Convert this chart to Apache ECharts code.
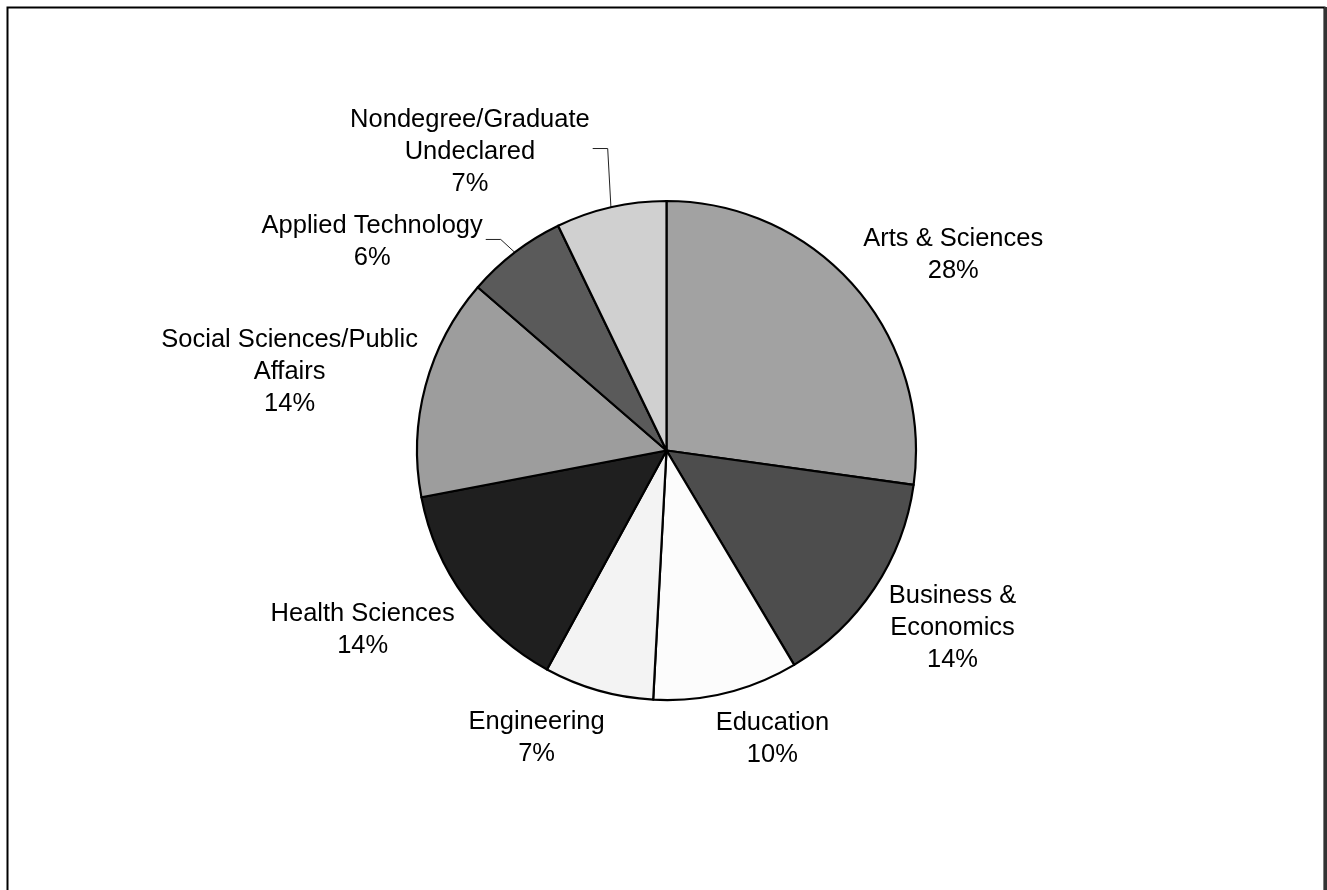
<!DOCTYPE html>
<html>
<head>
<meta charset="utf-8">
<script src="https://cdn.jsdelivr.net/npm/echarts@6/dist/echarts.min.js"></script>
<style>
html, body { margin: 0; padding: 0; background: #fff; }
#chart { width: 1327px; height: 890px; }
</style>
</head>
<body>
<div id="chart"></div>
<script>
// ---- data ----
const categories = ['Arts & Sciences', 'Business & Economics', 'Education', 'Engineering',
  'Health Sciences', 'Social Sciences/Public Affairs', 'Applied Technology', 'Nondegree/Graduate Undeclared'];
const labelNames = ['Arts & Sciences', 'Business &\nEconomics', 'Education', 'Engineering',
  'Health Sciences', 'Social Sciences/Public\nAffairs', 'Applied Technology', 'Nondegree/Graduate\nUndeclared'];
// slice shares as drawn in the picture
const shares = [27.2, 14.25, 9.4, 7.1, 14.05, 14.35, 6.5, 7.15];
// percentages as printed on the labels
const labelPercents = [28, 14, 10, 7, 14, 14, 6, 7];

// ---- styling ----
const sliceColors = ['#a2a2a2', '#4d4d4d', '#fcfcfc', '#f3f3f3', '#1f1f1f', '#9d9d9d', '#5a5a5a', '#d0d0d0'];
const withLeader = [false, false, false, false, false, false, true, true];
const labelOffsets = [[1, 7], [6, -14], [-13, 5], [9, 6], [-2, -5], [2, 37], [-26, 30], [-19, 2]];
const CX = 666.5, CY = 450.5, R = 249.5, GAP = 10;

const total = shares.reduce((a, b) => a + b, 0);
const midAngles = [];
let acc = 0;
shares.forEach(v => { midAngles.push((acc + v / 2) / total * 2 * Math.PI); acc += v; });

const chart = echarts.init(document.getElementById('chart'));
chart.setOption({
  backgroundColor: '#fff',
  animation: false,
  graphic: [
    { type: 'rect', shape: { x: 7.5, y: 7.5, width: 1317, height: 900 },
      style: { fill: null, stroke: '#000', lineWidth: 2 }, silent: true },
    { type: 'line', shape: { x1: 1325.5, y1: 7, x2: 1325.5, y2: 890 },
      style: { stroke: '#333', lineWidth: 3 }, silent: true }
  ],
  series: [{
    type: 'pie',
    center: [CX, CY],
    radius: R,
    startAngle: 90,
    clockwise: true,
    avoidLabelOverlap: false,
    data: categories.map((c, i) => ({
      name: c,
      value: shares[i],
      itemStyle: { color: sliceColors[i] },
      labelLine: { show: withLeader[i] }
    })),
    itemStyle: { borderColor: '#000', borderWidth: 2.2 },
    label: {
      show: true,
      position: 'outside',
      formatter: p => labelNames[p.dataIndex] + '\n' + labelPercents[p.dataIndex] + '%',
      fontFamily: 'Liberation Sans, Arial, sans-serif',
      fontSize: 25.5,
      lineHeight: 32,
      color: '#000'
    },
    labelLine: { show: false, length: 10, length2: 10, lineStyle: { color: '#222', width: 1 } },
    labelLayout: function (p) {
      const i = p.dataIndex;
      const a = midAngles[i];
      const dx = Math.sin(a), dy = -Math.cos(a);
      const w = p.labelRect.width, h = p.labelRect.height;
      const px = CX + dx * (R + GAP), py = CY + dy * (R + GAP);
      const x = px + Math.sign(dx) * w / 2 + labelOffsets[i][0];
      const y = py + Math.sign(dy) * h / 2 + labelOffsets[i][1];
      const res = { x: x, y: y, align: 'center', verticalAlign: 'middle' };
      if (withLeader[i]) {
        const ex = x + w / 2 + 3;
        const ly = y - 3;
        res.labelLinePoints = [
          [CX + dx * R, CY + dy * R],
          [ex + 15, ly],
          [ex, ly]
        ];
      }
      return res;
    }
  }]
});
</script>
</body>
</html>
